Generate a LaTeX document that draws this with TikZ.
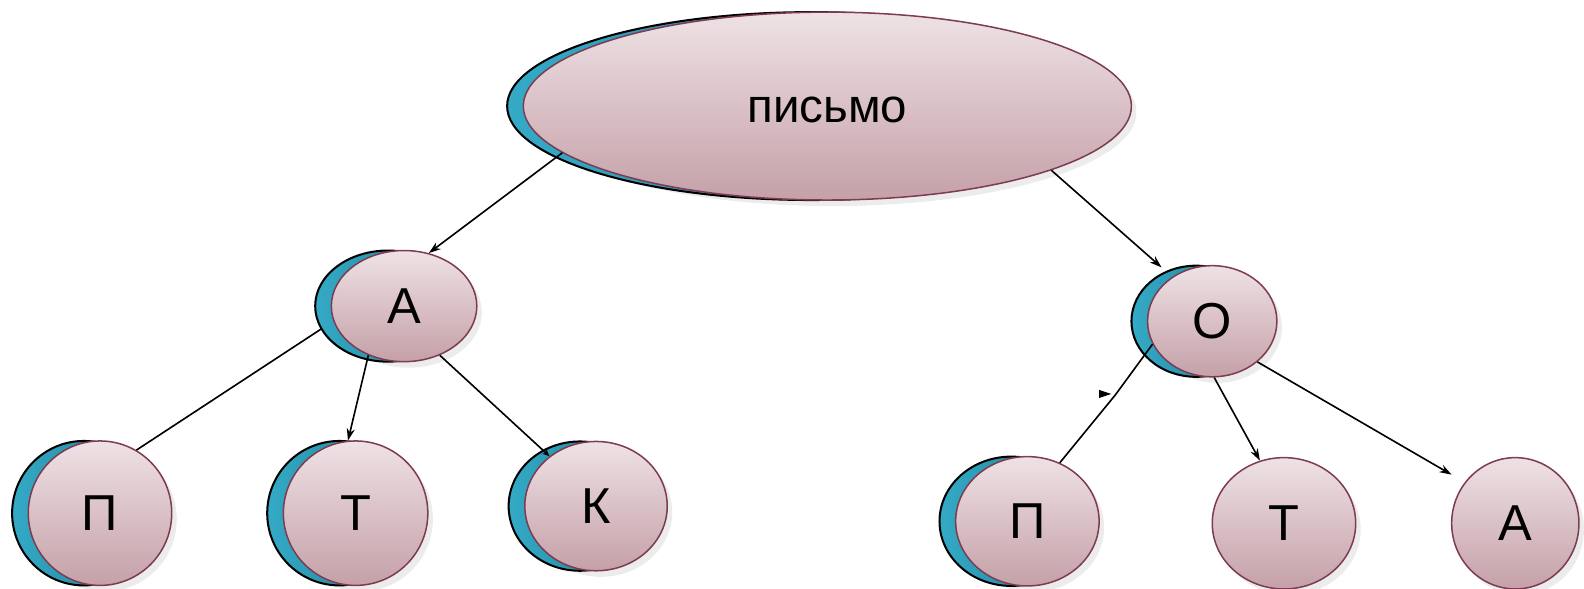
\documentclass[tikz,border=0pt]{standalone}
\usepackage{fontspec}
\setmainfont{Liberation Sans}
\usetikzlibrary{shapes.geometric,shadows,arrows.meta}
\definecolor{pinktop}{HTML}{EEE2E5}
\definecolor{pinkbot}{HTML}{C5A0A8}
\definecolor{rim}{HTML}{7E3C52}
\definecolor{tealA}{HTML}{34AAC6}
\definecolor{tealB}{HTML}{1A7A92}

\begin{document}
\begin{tikzpicture}[x=1pt, y=-1pt,
  leaf/.style={ellipse, draw=rim, line width=1.5pt, top color=pinktop,
    bottom color=pinkbot, inner sep=0pt, font=\fontsize{50}{60}\selectfont,
    drop shadow={shadow xshift=5pt, shadow yshift=-6pt, opacity=0.15}},
  twin/.style={leaf, general shadow={shadow xshift=-16pt, draw=black,
    line width=2pt, left color=tealA, right color=tealB}},
  edge/.style={line width=1.6pt}, >={Stealth[length=12pt,width=8pt]}]

  \useasboundingbox (0,0) rectangle (1568,583);

  \node[twin, minimum width=602pt, minimum height=186pt, text height=32pt,
    text depth=0pt, font=\fontsize{47}{56}\selectfont] (letter) at (819,105) {письмо};
  \node[twin, minimum width=144pt, minimum height=110pt] (a) at (400,303) {А};
  \node[twin, minimum width=128pt, minimum height=110pt] (o) at (1200,318) {О};
  \node[twin, minimum width=142pt, minimum height=143pt] (p) at (99,508) {П};
  \node[twin, minimum width=143pt, minimum height=143pt] (t) at (352,508) {Т};
  \node[twin, minimum width=141pt, minimum height=128pt] (k) at (590,501) {К};
  \node[twin, minimum width=142pt, minimum height=128pt] (pp) at (1017,516) {П};
  \node[leaf, minimum width=142pt, minimum height=130pt] (tt) at (1271,518) {Т};
  \node[leaf, minimum width=126pt, minimum height=130pt] (aa) at (1500,518) {А};

  \draw[edge,->] (letter.190) -- (a.65);
  \draw[edge,->,shorten >=14pt] (letter.344) -- (o.132);
  \draw[edge] ([xshift=-16pt]a.199) -- (p.60);
  \draw[edge,->] (a.234) -- (t.96);
  \draw[edge,-{Stealth[length=7pt,width=6pt]}] (a.306) -- (k.133);
  \coordinate (kink) at (1104,391);
  \draw[edge] (o.201) -- (kink) -- (pp.61);
  \fill (1088,386) -- (1100,390) -- (1088,394) -- cycle;
  \draw[edge,->] (o.272) -- (tt.111);
  \draw[edge,->,shorten >=15pt] (o.318) -- (aa.141);
\end{tikzpicture}
\end{document}
